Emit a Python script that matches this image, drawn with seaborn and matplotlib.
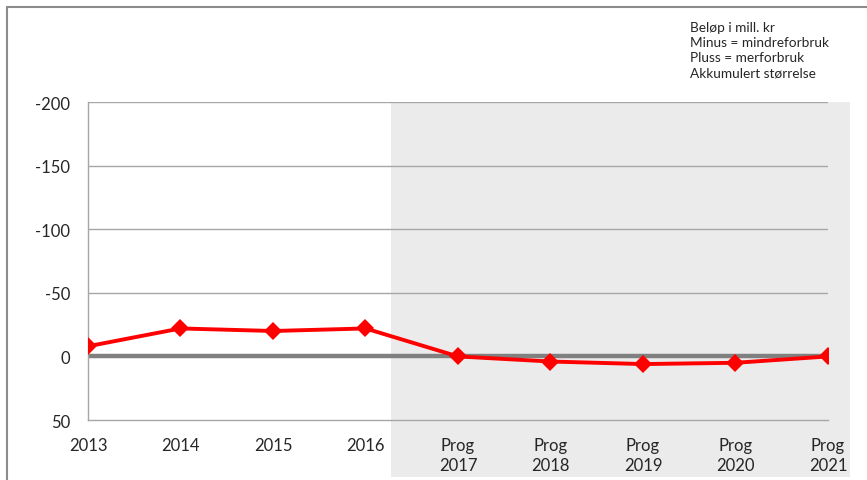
"""Akkumulert mer-/mindreforbruk, faktisk og prognose."""

import matplotlib
matplotlib.use('Agg')
import matplotlib.pyplot as plt
import matplotlib.transforms as mtransforms
from matplotlib.lines import Line2D
from matplotlib.patches import Rectangle
import seaborn as sns

# Data (mill. kr, minus = mindreforbruk)
years = ["2013", "2014", "2015", "2016",
         "Prog\n2017", "Prog\n2018", "Prog\n2019", "Prog\n2020", "Prog\n2021"]
values = [-8, -22, -20, -22, 0, 4, 6, 5, 0]
y_ticks = [-200, -150, -100, -50, 0, 50]
note_lines = ["Beløp i mill. kr", "Minus = mindreforbruk",
              "Pluss = merforbruk", "Akkumulert størrelse"]

sns.set_theme(style="white")
plt.rcParams['font.family'] = ['Lato', 'DejaVu Sans']

fig = plt.figure(figsize=(8.67, 4.81), dpi=100)
ax = fig.add_axes([0.1015, 0.1247, 0.8535, 0.661])

# prognosis background
trans = mtransforms.blended_transform_factory(ax.transData, ax.transAxes)
ax.add_patch(Rectangle((3.28, -0.18), 4.96, 1.18, transform=trans,
                       facecolor='#ebebeb', edgecolor='none', zorder=0,
                       clip_on=False))

for t in y_ticks[:-2]:
    ax.axhline(t, color='#a6a6a6', lw=1.0, zorder=1)
ax.axhline(0, color='#808080', lw=3.2, zorder=2)

sns.lineplot(x=years, y=values, ax=ax, color='#ff0000', lw=2.8,
             marker='D', markersize=9, markeredgewidth=0, sort=False,
             zorder=3)

ax.set_xlim(0, len(years) - 1)
ax.set_ylim(50, -200)
ax.set_yticks(y_ticks)
ax.set_yticklabels([str(t) for t in y_ticks])
ax.set_xlabel("")
ax.set_ylabel("")

for side in ['top', 'right']:
    ax.spines[side].set_visible(False)
for side in ['left', 'bottom']:
    ax.spines[side].set_color('#a6a6a6')
    ax.spines[side].set_linewidth(1.0)

ax.tick_params(axis='x', length=0, pad=12, labelsize=12, colors='#262626')
ax.tick_params(axis='y', length=0, pad=13, labelsize=12, colors='#262626')
for lab in ax.get_xticklabels():
    lab.set_linespacing(1.3)

fig.text(690 / 867, 1 - 22 / 481, "\n".join(note_lines), fontsize=9.8,
         color='#262626', va='top', ha='left', linespacing=1.3)

# outer frame (top and left)
fig.add_artist(Line2D([7 / 867, 7 / 867], [0, 1 - 8 / 481],
                      transform=fig.transFigure, color='#8c8c8c', lw=1.5))
fig.add_artist(Line2D([7 / 867, 1], [1 - 8 / 481, 1 - 8 / 481],
                      transform=fig.transFigure, color='#8c8c8c', lw=1.5))

fig.savefig("out.png", dpi=100)
plt.close(fig)
